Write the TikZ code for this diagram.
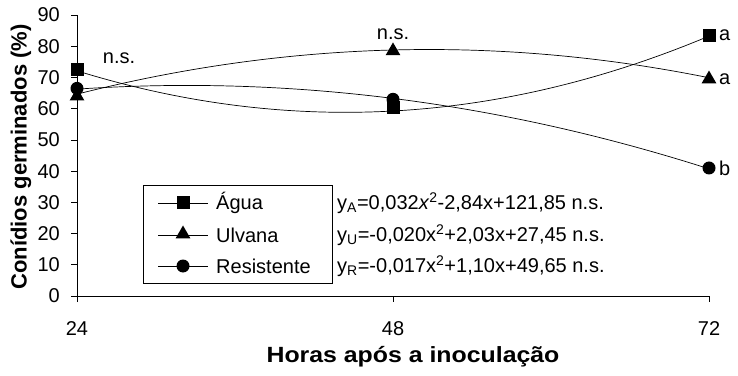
\documentclass[tikz,border=0pt]{standalone}
\usepackage{fontspec}
\setmainfont{Liberation Sans}
\usetikzlibrary{shapes.geometric}
\begin{document}
\begin{tikzpicture}[x=1pt,y=1pt,
  ln/.style={line width=0.7pt,black},
  sq/.style={fill=black,minimum size=13pt,inner sep=0pt,draw=none,rectangle},
  tri/.style={fill=black,regular polygon,regular polygon sides=3,minimum size=17pt,inner sep=0pt},
  circ/.style={fill=black,circle,minimum size=13pt,inner sep=0pt},
  tick/.style={font=\fontsize{20}{24}\selectfont},
  lab/.style={font=\fontsize{20}{24}\selectfont},
  ttl/.style={font=\bfseries\fontsize{22}{26}\selectfont}]
\useasboundingbox (0,0) rectangle (738,375);
% axes origin (77,79); hour scale 13.1667; value scale 3.122
\begin{scope}[shift={(77,79)}]
  \draw[ln] (0,-6) -- (0,281);
  \draw[ln] (0,0) -- (632,0);
  \foreach \v in {0,10,...,90} {
    \draw[ln] (-6,\v*3.122) -- (0,\v*3.122);
    \node[tick,anchor=east,inner sep=0pt] (yl\v) at (-17,\v*3.122) {\v};
  }
  \foreach \h/\px in {24/0,48/316,72/632} {
    \draw[ln] (\px,0) -- (\px,-6);
    \node[tick,anchor=base,inner sep=0pt] (xl\h) at (\px,-39) {\h};
  }
  % fitted curves
  \draw[ln] plot[domain=24:72,samples=80] ({(\x-24)*13.1667},{(0.032*\x*\x-2.84*\x+121.85)*3.122});
  \draw[ln] plot[domain=24:72,samples=80] ({(\x-24)*13.1667},{(-0.020*\x*\x+2.03*\x+27.45)*3.122});
  \draw[ln] plot[domain=24:72,samples=80] ({(\x-24)*13.1667},{(-0.017*\x*\x+1.10*\x+49.65)*3.122});
  % markers
  \node[sq] (a1) at (0,72.5*3.122) {};
  \node[sq] (a2) at (316,60.5*3.122) {};
  \node[sq] (a3) at (632,83.5*3.122) {};
  \node[tri] (u1) at (0,64*3.122) {};
  \node[tri] (u2) at (316,78.5*3.122) {};
  \node[tri] (u3) at (632,69.5*3.122) {};
  \node[circ] (r1) at (0,66.5*3.122) {};
  \node[circ] (r2) at (316,63*3.122) {};
  \node[circ] (r3) at (632,41*3.122) {};
  % significance labels
  \node[lab,inner sep=0pt] (ns1) at (42,238) {n.s.};
  \node[lab,inner sep=0pt] (ns2) at (316,262) {n.s.};
  \node[lab,anchor=west,inner sep=0pt] (la) at (642,83.5*3.122) {a};
  \node[lab,anchor=west,inner sep=0pt] (lu) at (642,69.5*3.122) {a};
  \node[lab,anchor=west,inner sep=0pt] (lr) at (642,41*3.122) {b};
\end{scope}
% axis titles
\node[ttl,anchor=base,xscale=1.13] (xt) at (413,13) {Horas após a inoculação};
\node[ttl,rotate=90,inner sep=0pt] (yt) at (21,218) {Conídios germinados (\%)};
% legend
\draw[line width=0.6pt,fill=white] (143,92) rectangle (332,190);
\draw[ln] (158,172) -- (208,172);
\node[sq] (lga) at (183,172) {};
\node[lab,anchor=west,inner sep=0pt] (lta) at (216,172) {Água};
\draw[ln] (158,140) -- (208,140);
\node[tri] (lgu) at (183,141) {};
\node[lab,anchor=west,inner sep=0pt] (ltu) at (216,140) {Ulvana};
\draw[ln] (158,109) -- (208,109);
\node[circ] (lgr) at (183,109) {};
\node[lab,anchor=west,inner sep=0pt] (ltr) at (216,109) {Resistente};
% equations
\node[lab,anchor=west,inner sep=0pt] (ea) at (337,172) {y\textsubscript{A}=0,032\textit{x}\textsuperscript{2}-2,84x+121,85 n.s.};
\node[lab,anchor=west,inner sep=0pt] (eu) at (337,140) {y\textsubscript{U}=-0,020x\textsuperscript{2}+2,03x+27,45 n.s.};
\node[lab,anchor=west,inner sep=0pt] (er) at (337,109) {y\textsubscript{R}=-0,017x\textsuperscript{2}+1,10x+49,65 n.s.};
\end{tikzpicture}
\end{document}
